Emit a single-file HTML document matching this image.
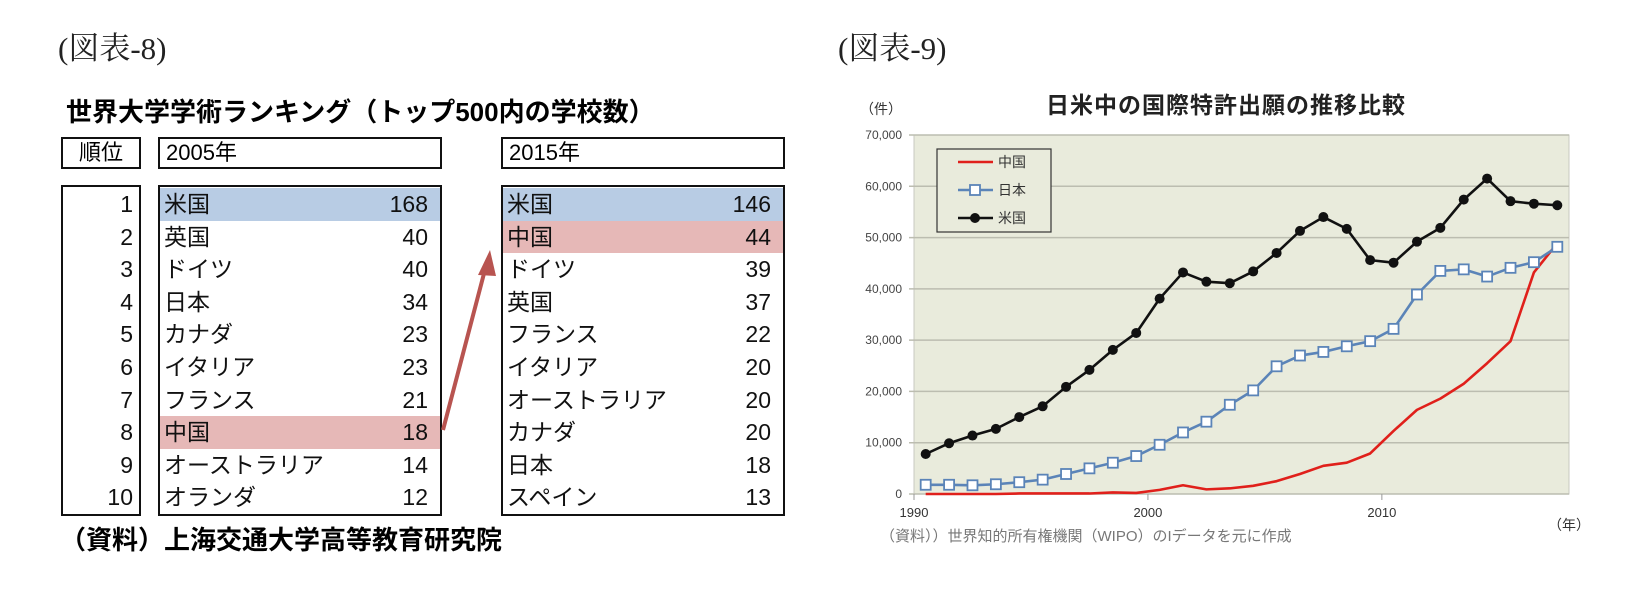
<!DOCTYPE html>
<html><head><meta charset="utf-8">
<style>
body{margin:0;width:1639px;height:596px;background:#fff;position:relative;overflow:hidden;font-family:"Liberation Sans","Noto Sans CJK JP",sans-serif;}
.abs{position:absolute;}
.fig{font-family:"Liberation Serif","Noto Serif CJK SC",serif;font-size:31px;color:#222;}
.box{position:absolute;border:2px solid #111;box-sizing:border-box;background:#fff;}
.hd{font-family:"Liberation Sans Narrow","Liberation Sans","Noto Sans CJK JP",sans-serif;font-size:22px;line-height:28px;padding-left:6px;}
.row{position:absolute;left:0;right:0;height:32.6px;font-family:"Liberation Sans Narrow","Liberation Sans","Noto Sans CJK JP",sans-serif;font-size:23px;line-height:32.6px;color:#111;}
.row .n{position:absolute;left:4px;}
.row .v{position:absolute;right:12px;}
</style></head><body>
<div class="abs fig" style="left:58px;top:23px">(図表-8)</div>
<div class="abs fig" style="left:838px;top:23px">(図表-9)</div>
<div class="abs" style="left:66px;top:92px;font-size:26px;font-weight:bold;letter-spacing:0px;">世界大学学術ランキング（トップ500内の学校数）</div>

<div class="box hd" style="left:61px;top:137px;width:80px;height:32px;text-align:center;padding:0;">順位</div>
<div class="box hd" style="left:158px;top:137px;width:284px;height:32px;">2005年</div>
<div class="box hd" style="left:501px;top:137px;width:284px;height:32px;">2015年</div>

<div class="box" id="rankbox" style="left:61px;top:185px;width:80px;height:331px;"></div>
<div class="box" id="t2005" style="left:158px;top:185px;width:284px;height:331px;"></div>
<div class="box" id="t2015" style="left:501px;top:185px;width:284px;height:331px;"></div>

<svg class="abs" style="left:0;top:0" width="820" height="596">
<line x1="443" y1="430" x2="487" y2="262" stroke="#b85450" stroke-width="4"/>
<polygon points="490,250 478,275 496,276" fill="#b85450"/>
</svg>

<div class="abs" style="left:60px;top:520px;font-size:26px;font-weight:bold;letter-spacing:0px;">（資料）上海交通大学高等教育研究院</div>

<svg class="abs" style="left:0;top:0" width="1639" height="596" id="chart"></svg>

<script>
const names2005=["米国","英国","ドイツ","日本","カナダ","イタリア","フランス","中国","オーストラリア","オランダ"];
const vals2005=[168,40,40,34,23,23,21,18,14,12];
const names2015=["米国","中国","ドイツ","英国","フランス","イタリア","オーストラリア","カナダ","日本","スペイン"];
const vals2015=[146,44,39,37,22,20,20,20,18,13];

function fill(id,names,vals){
  const box=document.getElementById(id);
  names.forEach((n,i)=>{
    const r=document.createElement('div');
    r.className='row';
    r.style.top=(1+i*32.6)+'px';
    if(n==='米国'&&i===0) r.style.background='#b8cce4';
    if(n==='中国') r.style.background='#e6b8b7';
    
    
    r.innerHTML='<span class="n">'+n+'</span><span class="v">'+vals[i]+'</span>';
    box.appendChild(r);
  });
}
fill('t2005',names2005,vals2005);
fill('t2015',names2015,vals2015);
const rb=document.getElementById('rankbox');
for(let i=0;i<10;i++){
  const r=document.createElement('div');
  r.className='row';
  r.style.top=(1+i*32.6)+'px';
  
  
  r.innerHTML='<span class="v" style="right:6px">'+(i+1)+'</span>';
  rb.appendChild(r);
}

const years=[];for(let y=1990;y<=2017;y++)years.push(y);
const usVals=[7.8,9.9,11.4,12.7,15,17.1,20.9,24.2,28.1,31.4,38.1,43.2,41.4,41.1,43.4,47,51.3,54,51.7,45.6,45.1,49.2,51.9,57.4,61.5,57.1,56.6,56.3];
const jpVals=[1.8,1.8,1.7,1.9,2.3,2.8,3.9,5,6.1,7.4,9.6,12,14.1,17.4,20.2,24.9,27,27.7,28.8,29.8,32.2,38.9,43.5,43.8,42.4,44.1,45.2,48.2];
const cnVals=[0,0,0,0,0.1,0.1,0.1,0.1,0.3,0.2,0.8,1.7,0.9,1.1,1.6,2.5,3.9,5.5,6.1,7.9,12.3,16.4,18.6,21.5,25.5,29.8,43.2,48.9];
const yTicks=[0,10,20,30,40,50,60,70];
const yTickLabels=["0","10,000","20,000","30,000","40,000","50,000","60,000","70,000"];
const xTickLabels=["1990","2000","2010"];

const L=914,R=1569,T=135,B=494,YMAX=70;
const step=(R-L)/years.length;
const xs=i=>L+(i+0.5)*step;
const ys=v=>B-(v/YMAX)*(B-T);
const svg=document.getElementById('chart');
const NS='http://www.w3.org/2000/svg';
function el(t,a,txt){const e=document.createElementNS(NS,t);for(const k in a)e.setAttribute(k,a[k]);if(txt!==undefined)e.textContent=txt;svg.appendChild(e);return e;}

let e=el('rect',{x:L,y:T,width:R-L,height:B-T,fill:'#e9ebdc',stroke:'#c8c8c0'});


yTicks.forEach((v,i)=>{
  const g=el('line',{x1:L-5,x2:R,y1:ys(v),y2:ys(v),stroke:'#bcbdb0','stroke-width':1.5});
  
  
  const t=el('text',{x:L-12,y:ys(v)+4,'text-anchor':'end','font-size':12,fill:'#444'},yTickLabels[i]);
  
  
});
xTickLabels.forEach((lab,i)=>{
  const x=L+i*10*step;
  el('line',{x1:x,x2:x,y1:B,y2:B+6,stroke:'#999'});
  const t=el('text',{x:x,y:B+23,'text-anchor':'middle','font-size':13,fill:'#333'},lab);
  
  
});
function series(vals,color,name){
  const p=el('polyline',{points:vals.map((v,i)=>xs(i)+','+ys(v)).join(' '),fill:'none',stroke:color,'stroke-width':2.6,'stroke-linejoin':'round'});
  
  
}
series(cnVals,'#e0201b','china-line');
series(jpVals,'#5b84b8','japan-line');
series(usVals,'#111','us-line');
jpVals.forEach((v,i)=>{
  const m=el('rect',{x:xs(i)-5,y:ys(v)-5,width:10,height:10,fill:'#fff',stroke:'#5b84b8','stroke-width':1.8});
  
  
});
usVals.forEach((v,i)=>{
  const m=el('circle',{cx:xs(i),cy:ys(v),r:5,fill:'#111'});
  
  
});

e=el('rect',{x:937,y:149,width:114,height:83,fill:'#e9ebdc',stroke:'#333','stroke-width':1.2});


const legNames=["中国","日本","米国"];
const legColors=["#e0201b","#5b84b8","#111"];
legNames.forEach((n,i)=>{
  const y=162+i*28;
  el('line',{x1:958,x2:993,y1:y,y2:y,stroke:legColors[i],'stroke-width':2.6});
  if(i===1)el('rect',{x:970,y:y-5,width:10,height:10,fill:'#fff',stroke:legColors[i],'stroke-width':1.8});
  if(i===2)el('circle',{cx:975,cy:y,r:5,fill:'#111'});
  const t=el('text',{x:998,y:y+5,'font-size':14,fill:'#333'},n);
  
  
});

e=el('text',{x:1226,y:113,'text-anchor':'middle','font-size':23,'font-weight':'bold',fill:'#222','letter-spacing':'1'},'日米中の国際特許出願の推移比較');


e=el('text',{x:860,y:114,'font-size':14,fill:'#333'},'（件）');


e=el('text',{x:1548,y:530,'font-size':14,fill:'#333'},'（年）');


e=el('text',{x:880,y:541,'font-size':15,fill:'#777'},'（資料））世界知的所有権機関（WIPO）のIデータを元に作成');


</script>
</body></html>
